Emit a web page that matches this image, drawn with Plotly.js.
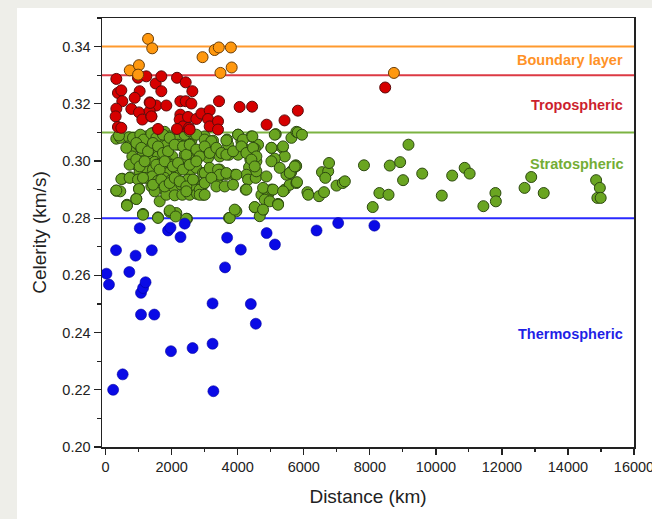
<!DOCTYPE html>
<html>
<head>
<meta charset="utf-8">
<script src="https://cdn.plot.ly/plotly-3.0.1.min.js"></script>
<style>
html,body{margin:0;padding:0;background:#eeeee9;width:652px;height:519px;overflow:hidden;}
#chart{position:absolute;left:17px;top:8px;width:635px;height:511px;background:#fff;}
</style>
</head>
<body>
<div id="chart"></div>
<script>
// Boundary layer (orange)
const boundaryX = [1285,1411,731,1008,983,2935,3300,3427,3792,3817,3477,8730];
const boundaryY = [0.3427,0.3394,0.3317,0.3335,0.3302,0.3363,0.3388,0.3397,0.3397,0.3327,0.3308,0.3308];

// Tropospheric (red)
const tropoX = [324,373,475,505,324,303,373,475,979,1232,1030,879,778,1010,1333,1111,1384,1535,1838,1515,1687,1687,1586,1333,2161,2424,2626,2263,2424,2596,2263,2242,2343,2525,2495,2747,2899,3151,3434,3100,3151,3403,3403,2161,4057,4435,4875,5417,5820,8466,1348,1386,2545];
const tropoY = [0.3287,0.3238,0.3247,0.3209,0.3183,0.3156,0.3119,0.3116,0.3291,0.3296,0.3244,0.3221,0.3182,0.3170,0.3205,0.3145,0.3156,0.3194,0.3194,0.3271,0.3296,0.3244,0.3112,0.3174,0.3291,0.3275,0.3244,0.3209,0.3209,0.3201,0.3162,0.3145,0.3121,0.3116,0.3154,0.3147,0.3166,0.3177,0.3209,0.3147,0.3121,0.3139,0.3110,0.3112,0.3189,0.3190,0.3127,0.3142,0.3176,0.3257,0.3203,0.3156,0.3110];

// Stratospheric (green)
const stratoX = [
323,444,707,1010,1232,1434,1788,1939,1687,2222,2495,2596,2424,
677,828,980,1081,1313,1535,1838,2192,2545,808,1131,1333,1586,1889,2020,2394,2525,2747,
929,1111,1283,1485,1636,1838,2020,2293,2464,2646,1030,1283,1434,1737,1889,2161,2394,2545,2747,
505,747,1010,1232,1414,1586,1788,1959,2242,2495,2697,1384,1687,1838,2040,2293,2596,1010,323,444,1485,
929,1636,1838,2091,2323,2545,2768,646,
1131,1586,1939,2141,2464,
3000,3252,3030,3000,3101,3676,3707,3454,3737,4010,4111,4161,4414,4616,4515,4010,4383,4565,4343,5020,5151,5353,5424,5121,5626,5777,
2949,3202,3404,3656,3909,3454,3404,2949,2949,4262,4313,4545,4868,4565,4242,4717,4919,5020,4818,4969,5222,5424,5575,5474,5626,5757,5777,4515,4747,4666,3959,3737,
5820,5946,5770,5795,5606,6110,6135,6463,6614,6551,6740,6765,6652,6992,7181,7244,7823,8088,8290,8567,8604,8919,9007,9171,9587,10179,10494,10872,11023,11439,11804,11817,12686,12888,13266,14853,14966,14891,14991,
404,828,1050,1151,1384,1535,1737,1939,2394,2545,2747,2999,3202,3656,4010,4161,4444,5121,
626,929,1081,1283,1434,1586,1737,1889,2091,2343,2444,2545,2747,2848,2999,3151,3353,3505,3656,3858,4111,4262,4464,4565,5020,5373,
727,929,1030,1182,1535,1636,1788,2040,2192,2343,2545,2747,2999,3151,3404,3454,3656,3959,4414,4515,5020,5272,5575,5727,
475,727,980,1131,1434,1687,1788,1939,2091,2242,2444,2646,2848,2999,3202,3353,3606,3858,4262,4767,5070,5373,
323,1010,646,929,1131,1586,1939,2121,2444,2444,2848,2999,3757,3909,4515,4767,5222
];
const stratoY = [
0.3078,0.3081,0.3083,0.3081,0.3086,0.3098,0.3102,0.3086,0.3075,0.3081,0.3086,0.3071,0.3057,
0.3051,0.3046,0.3057,0.3043,0.3063,0.3043,0.3055,0.3057,0.3060,0.3016,0.3025,0.3011,0.3016,0.3028,0.3016,0.3022,0.3025,0.3034,
0.2987,0.2999,0.2987,0.2997,0.2990,0.2999,0.2987,0.2987,0.2999,0.2990,0.2964,0.2964,0.2970,0.2964,0.2958,0.2964,0.2976,0.2964,0.2976,
0.2938,0.2943,0.2935,0.2941,0.2946,0.2931,0.2941,0.2931,0.2929,0.2935,0.2931,0.2911,0.2906,0.2911,0.2906,0.2917,0.2911,0.2903,0.2896,0.2894,0.2894,
0.2868,0.2859,0.2882,0.2880,0.2882,0.2882,0.2885,0.2847,
0.2815,0.2803,0.2822,0.2818,0.2798,
0.3086,0.3071,0.3055,0.3032,0.3011,0.3075,0.3057,0.3016,0.3022,0.3092,0.3069,0.3048,0.3086,0.3057,0.3043,0.3022,0.3005,0.2999,0.2978,0.3046,0.3094,0.3046,0.3016,0.3008,0.3081,0.3102,
0.2958,0.2946,0.2941,0.2952,0.2952,0.2970,0.2917,0.2917,0.2882,0.2952,0.2935,0.2941,0.2946,0.2964,0.2900,0.2882,0.2882,0.2900,0.2865,0.2859,0.2850,0.2900,0.2917,0.2952,0.2964,0.2985,0.2923,0.2838,0.2826,0.2807,0.2824,0.2801,
0.3100,0.3092,0.2982,0.2926,0.2958,0.2891,0.2882,0.2877,0.2891,0.2961,0.2964,0.2993,0.2941,0.2914,0.2923,0.2929,0.2985,0.2839,0.2888,0.2882,0.2984,0.2996,0.2933,0.3057,0.2956,0.2879,0.2949,0.2976,0.2956,0.2842,0.2888,0.2859,0.2906,0.2944,0.2888,0.2933,0.2906,0.2871,0.2871,
0.3089,0.3081,0.3092,0.3075,0.3096,0.3081,0.3092,0.3081,0.3092,0.3104,0.3092,0.3075,0.3069,0.3072,0.3092,0.3075,0.3086,0.3092,
0.3046,0.3063,0.3046,0.3034,0.3063,0.3051,0.3028,0.3034,0.3057,0.3051,0.3022,0.3057,0.3040,0.3016,0.3051,0.3028,0.3046,0.3028,0.3022,0.3034,0.3051,0.3028,0.3046,0.3016,0.3046,0.3051,
0.2987,0.3005,0.2981,0.2999,0.2987,0.2970,0.2999,0.2981,0.2993,0.2970,0.2987,0.2999,0.2958,0.2976,0.2970,0.2952,0.2958,0.2952,0.3005,0.2981,0.2999,0.2976,0.2958,0.2981,
0.2937,0.2941,0.2935,0.2941,0.2917,0.2935,0.2911,0.2923,0.2941,0.2929,0.2911,0.2935,0.2900,0.2923,0.2941,0.2911,0.2911,0.2917,0.2900,0.2906,0.2900,0.2894,
0.2897,0.2902,0.2844,0.2867,0.2812,0.2801,0.2827,0.2806,0.2798,0.2894,0.2882,0.2882,0.2801,0.2830,0.2839,0.2830,0.2847
];

// Thermospheric (blue)
const thermoX = [25,101,315,227,516,718,907,1033,1071,1134,1209,1071,1474,1398,1978,1890,1965,2268,2394,2633,3238,3238,3263,3616,3679,4094,4397,4548,4875,5127,6387,7042,8138];
const thermoY = [0.2606,0.2568,0.2688,0.2200,0.2254,0.2612,0.2669,0.2765,0.2539,0.2556,0.2576,0.2463,0.2463,0.2688,0.2335,0.2757,0.2767,0.2734,0.2781,0.2346,0.2502,0.2361,0.2195,0.2628,0.2732,0.2690,0.2500,0.2431,0.2748,0.2708,0.2757,0.2783,0.2774];

// Boundary values between regimes and labels
const levels = [0.34, 0.33, 0.31, 0.28];
const levelColors = ['#ff9a2e', '#dc3a44', '#7cb342', '#2a2aff'];
const labels = ['Boundary layer', 'Tropospheric', 'Stratospheric', 'Thermospheric'];
const labelY = [0.3352, 0.3197, 0.2990, 0.2396];
const labelColors = ['#ff9226', '#cc1f2e', '#74ad35', '#1f1fe6'];

const xTicks = [0,2000,4000,6000,8000,10000,12000,14000,16000];
const yTicks = [0.20,0.22,0.24,0.26,0.28,0.30,0.32,0.34];

const FONT = 'Arial, "Liberation Sans", Helvetica, sans-serif';

function sc(x, y, fill, line, lw) {
  return {
    type: 'scatter', mode: 'markers', x: x, y: y, hoverinfo: 'skip', cliponaxis: true,
    marker: {size: 11, color: fill, line: {color: line, width: lw}}
  };
}

const data = [
  sc(stratoX, stratoY, '#6aa521', '#2d4a10', 1),
  sc(tropoX, tropoY, '#d60000', '#5a0b0b', 1),
  sc(boundaryX, boundaryY, '#ff980f', '#6b3e08', 1),
  sc(thermoX, thermoY, '#0a0ae6', '#0000a0', 0.6)
];

const shapes = levels.map((v, i) => ({
  type: 'line', xref: 'paper', x0: 0, x1: 1, yref: 'y', y0: v, y1: v,
  line: {color: levelColors[i], width: 2}, layer: 'below'
}));

const annotations = labels.map((t, i) => ({
  xref: 'paper', x: 0.984, xanchor: 'right', yref: 'y', y: labelY[i], yanchor: 'middle',
  text: '<b>' + t + '</b>', showarrow: false,
  font: {family: FONT, size: 14.5, color: labelColors[i]}
}));

const layout = {
  width: 635, height: 511,
  margin: {l: 85, r: 18, t: 10, b: 72, pad: 0},
  paper_bgcolor: '#ffffff', plot_bgcolor: '#ffffff',
  showlegend: false,
  font: {family: FONT, color: '#222'},
  xaxis: {
    range: [-110, 16000], tickvals: xTicks, ticktext: xTicks.map(String),
    ticklabeloverflow: 'allow',
    ticks: 'outside', ticklen: 6, tickwidth: 1.3, tickcolor: '#222',
    minor: {dtick: 1000, tick0: 0, ticks: 'outside', ticklen: 3.5, tickwidth: 1.2, tickcolor: '#222'},
    showgrid: false, zeroline: false, showline: true, linecolor: '#222', linewidth: 1.5, mirror: true,
    tickfont: {size: 14.5, color: '#222', family: FONT},
    title: {text: 'Distance (km)', font: {size: 19, color: '#222', family: FONT}, standoff: 16}
  },
  yaxis: {
    range: [0.2, 0.35], tickvals: yTicks, ticktext: yTicks.map(v => v.toFixed(2)),
    ticks: 'outside', ticklen: 7, tickwidth: 1.3, tickcolor: '#222',
    minor: {dtick: 0.01, tick0: 0.2, ticks: 'outside', ticklen: 4, tickwidth: 1.2, tickcolor: '#222'},
    showgrid: false, zeroline: false, showline: true, linecolor: '#222', linewidth: 1.5, mirror: true,
    tickfont: {size: 14.5, color: '#222', family: FONT},
    title: {text: 'Celerity (km/s)', font: {size: 19, color: '#222', family: FONT}, standoff: 10}
  },
  shapes: shapes,
  annotations: annotations
};

Plotly.newPlot('chart', data, layout, {staticPlot: true, displayModeBar: false});
</script>
</body>
</html>
